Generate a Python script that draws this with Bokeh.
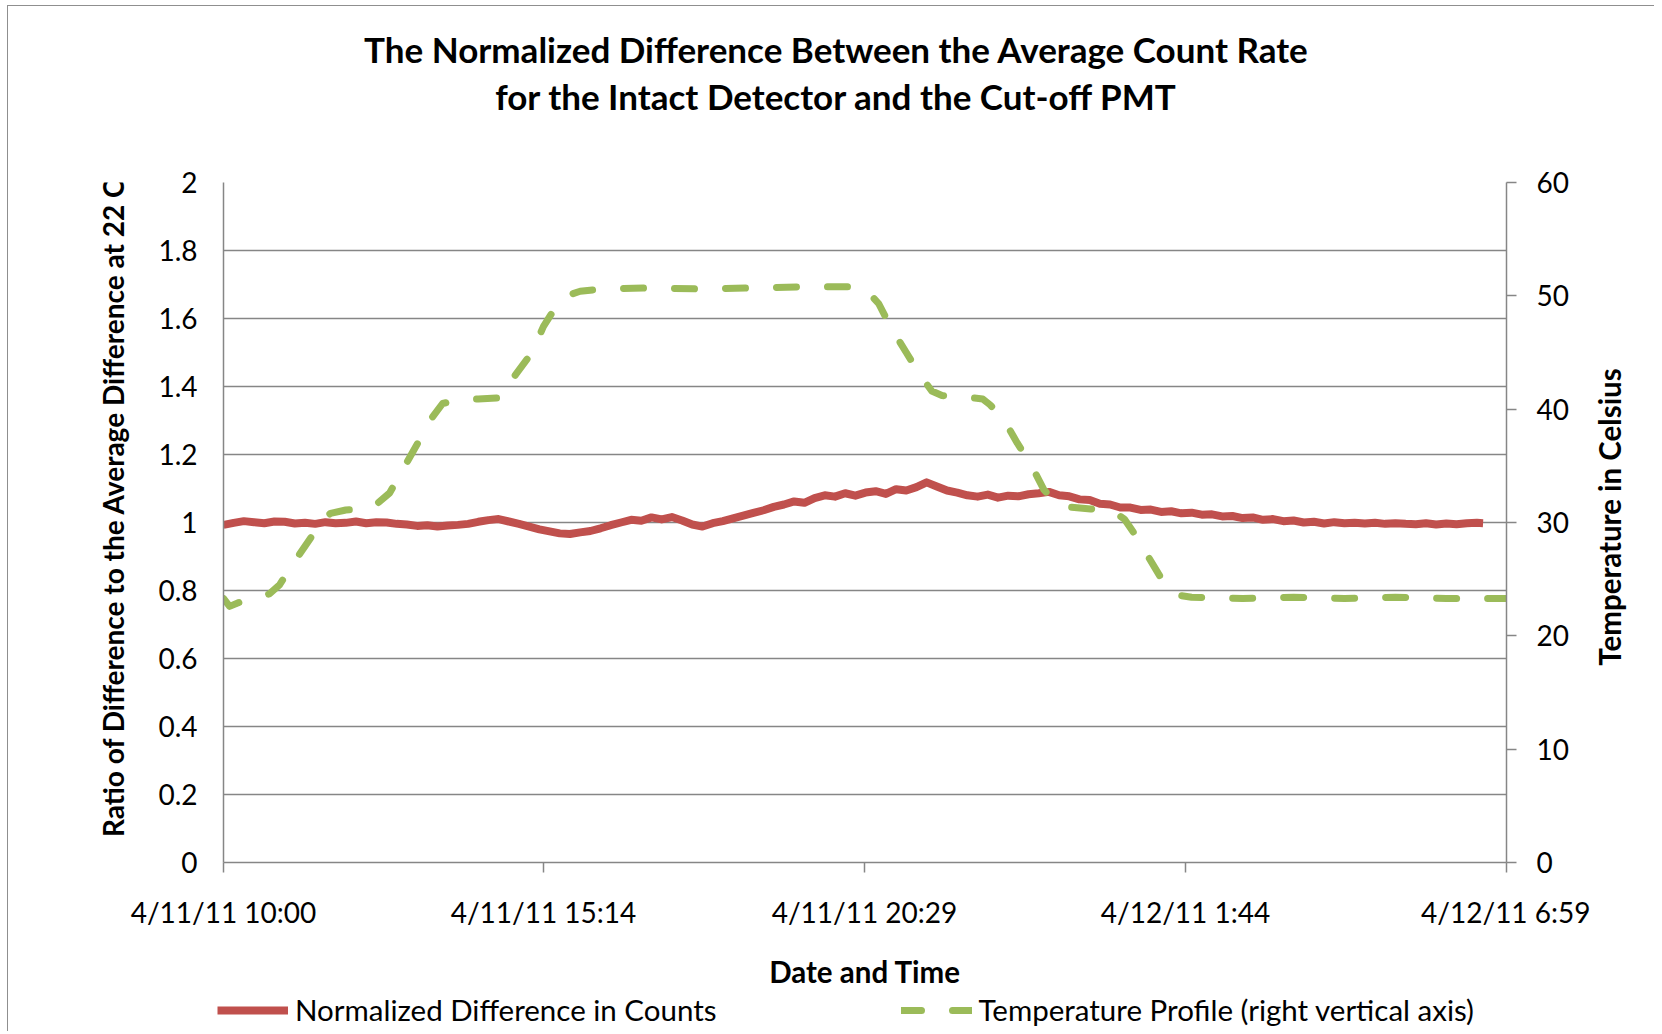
from bokeh.plotting import figure
from bokeh.layouts import column, row
from bokeh.models import (Range1d, LinearAxis, FixedTicker, NumeralTickFormatter,
                          Legend, LegendItem, Label)
from bokeh.embed import file_html
from bokeh.resources import INLINE
from math import pi

# ---------------- data ----------------
title_lines = ["The Normalized Difference Between the Average Count Rate",
               "for the Intact Detector and the Cut-off PMT"]
x_title = "Date and Time"
y_title = "Ratio of Difference to the Average Difference at 22 C"
y2_title = "Temperature in Celsius"

# x = minutes since 4/11/11 10:00
x_ticks = [0, 314, 629, 944, 1259]
x_tick_labels = ["4/11/11 10:00", "4/11/11 15:14", "4/11/11 20:29",
                 "4/12/11 1:44", "4/12/11 6:59"]
left_ticks = [0, 0.2, 0.4, 0.6, 0.8, 1, 1.2, 1.4, 1.6, 1.8, 2]
right_ticks = [0, 10, 20, 30, 40, 50, 60]

ratio_minutes = list(range(0, 1231, 10)) + [1236]
ratio_values = [
    0.993, 0.999, 1.004, 1.001, 0.998, 1.003, 1.002, 0.997, 0.999, 0.996,
    1.001, 0.998, 0.999, 1.003, 0.998, 1.001, 1.000, 0.996, 0.994, 0.990,
    0.992, 0.988, 0.991, 0.993, 0.996, 1.002, 1.007, 1.010, 1.003, 0.996,
    0.988, 0.980, 0.974, 0.968, 0.966, 0.971, 0.975, 0.983, 0.992, 1.000,
    1.008, 1.005, 1.015, 1.009, 1.016, 1.006, 0.994, 0.988, 0.998, 1.004,
    1.012, 1.020, 1.028, 1.036, 1.046, 1.053, 1.062, 1.058, 1.072, 1.080,
    1.076, 1.086, 1.079, 1.088, 1.092, 1.084, 1.098, 1.094, 1.104, 1.118,
    1.106, 1.094, 1.088, 1.080, 1.076, 1.082, 1.073, 1.079, 1.077, 1.083,
    1.086, 1.090, 1.080, 1.077, 1.068, 1.066, 1.055, 1.053, 1.044, 1.044,
    1.037, 1.038, 1.031, 1.033, 1.027, 1.029, 1.023, 1.024, 1.018, 1.019,
    1.013, 1.015, 1.008, 1.010, 1.004, 1.006, 1.000, 1.002, 0.997, 1.001,
    0.998, 0.999, 0.997, 0.999, 0.996, 0.998, 0.996, 0.995, 0.998, 0.994,
    0.997, 0.995, 0.998, 0.999,
    0.998,
]

temp_minutes = [0, 6, 25, 45, 55, 70, 86, 96, 105, 120,
                140, 150, 163, 178, 190, 205, 215, 230, 250, 272,
                287, 302, 314, 328, 340, 350, 370, 420, 470, 520,
                570, 610, 624, 633, 643, 655, 670, 683, 695, 705,
                724, 745, 752, 765, 779, 793, 805, 815, 825, 851,
                873, 884, 894, 906, 922, 936, 950, 1000, 1050, 1100,
                1150, 1200, 1259]
temp_values = [23.3, 22.6, 23.3, 23.7, 24.5, 26.6, 28.7, 30.2, 30.8, 31.1,
               31.2, 31.6, 32.6, 35.0, 36.9, 39.3, 40.5, 40.8, 40.9, 41.0,
               43.1, 44.9, 47.3, 49.3, 50.1, 50.4, 50.6, 50.7, 50.6, 50.7,
               50.8, 50.8, 50.8, 50.3, 49.3, 47.2, 45.0, 43.1, 41.6, 41.2,
               41.1, 40.9, 40.4, 39.2, 37.0, 35.0, 32.9, 31.9, 31.4, 31.2,
               31.0, 30.3, 29.0, 27.2, 24.8, 23.6, 23.4, 23.3, 23.4, 23.3,
               23.4, 23.3, 23.3]

series_names = ["Normalized Difference in Counts",
                "Temperature Profile (right vertical axis)"]

# ---------------- styling ----------------
FONT = "Lato"
RED = "#C0504D"
GREEN = "#9BBB59"
GRAY = "#868686"
TICK_SIZE = "28px"
AXIS_TITLE_SIZE = "29.5px"
TOTAL_W = 1646
SIDE_L, SIDE_R = 122, 64
BORDER_L, BORDER_R = 93, 84
STRIP_H = 850


def blank_fig(w, h, y_range=(0, 1)):
    f = figure(width=w, height=h, output_backend="svg", toolbar_location=None,
               title=None, x_axis_type=None, y_axis_type=None, min_border=0,
               x_range=Range1d(0, 1), y_range=Range1d(*y_range))
    f.outline_line_color = None
    f.background_fill_color = "white"
    f.border_fill_color = "white"
    return f


# ---------------- main plot ----------------
p = figure(frame_width=1283, frame_height=680,
           output_backend="svg", toolbar_location=None, title=None,
           x_range=Range1d(0, 1259), y_range=Range1d(0, 2),
           min_border_left=BORDER_L, min_border_right=BORDER_R,
           min_border_top=46, min_border_bottom=100)
p.extra_y_ranges = {"temp": Range1d(0, 60)}
p.outline_line_color = None
p.background_fill_color = "white"
p.border_fill_color = "white"

p.xgrid.grid_line_color = None
p.ygrid.grid_line_color = GRAY
p.ygrid.grid_line_width = 1.5
p.ygrid.ticker = FixedTicker(ticks=left_ticks)

xa = p.xaxis[0]
xa.ticker = FixedTicker(ticks=x_ticks)
xa.major_label_overrides = {t: lab for t, lab in zip(x_ticks, x_tick_labels)}
xa.axis_line_color = GRAY
xa.axis_line_width = 1.5
xa.major_tick_line_color = GRAY
xa.major_tick_line_width = 1.5
xa.major_tick_out = 10
xa.major_tick_in = 0
xa.minor_tick_line_color = None
xa.major_label_text_font = FONT
xa.major_label_text_font_size = TICK_SIZE
xa.major_label_text_color = "black"
xa.major_label_standoff = 22
xa.axis_label = x_title
xa.axis_label_text_font = FONT
xa.axis_label_text_font_style = "bold"
xa.axis_label_text_font_size = AXIS_TITLE_SIZE
xa.axis_label_text_color = "black"
xa.axis_label_standoff = 22

ya = p.yaxis[0]
ya.ticker = FixedTicker(ticks=left_ticks)
ya.formatter = NumeralTickFormatter(format="0.[0]")
ya.axis_line_color = GRAY
ya.axis_line_width = 1.5
ya.major_tick_line_color = None
ya.major_tick_out = 0
ya.major_tick_in = 0
ya.minor_tick_line_color = None
ya.major_label_text_font = FONT
ya.major_label_text_font_size = TICK_SIZE
ya.major_label_text_color = "black"
ya.major_label_standoff = 26

ra = LinearAxis(y_range_name="temp", ticker=FixedTicker(ticks=right_ticks))
ra.axis_line_color = GRAY
ra.axis_line_width = 1.5
ra.major_tick_line_color = GRAY
ra.major_tick_line_width = 1.5
ra.major_tick_out = 10
ra.major_tick_in = 0
ra.minor_tick_line_color = None
ra.major_label_text_font = FONT
ra.major_label_text_font_size = TICK_SIZE
ra.major_label_text_color = "black"
ra.major_label_standoff = 20
p.add_layout(ra, "right")

p.line(ratio_minutes, ratio_values, line_color=RED, line_width=8,
       line_join="round")
p.line(temp_minutes, temp_values, y_range_name="temp",
       line_color=GREEN, line_width=7, line_cap="round",
       line_join="round", line_dash="20 31")

# ---------------- title strip ----------------
tfig = blank_fig(TOTAL_W, 130)
for txt, yy in zip(title_lines, [88, 41]):
    tfig.add_layout(Label(x=828, y=yy, x_units="screen", y_units="screen",
                          text=txt, text_font=FONT, text_font_style="bold",
                          text_font_size="35px", text_align="center",
                          text_baseline="middle", text_color="black"))

# ---------------- side strips with the vertical axis titles ----------------
# (their plot areas line up with the main plot area: y measured from its bottom)
lside = blank_fig(SIDE_L, STRIP_H)
lside.add_layout(Label(x=104.5, y=350, x_units="screen", y_units="screen",
                       text=y_title, angle=pi / 2, text_font=FONT,
                       text_font_style="bold", text_font_size="28px",
                       text_align="center", text_baseline="middle",
                       text_color="black"))
rside = blank_fig(SIDE_R, STRIP_H)
rside.add_layout(Label(x=19, y=340.5, x_units="screen", y_units="screen",
                       text=y2_title, angle=pi / 2, text_font=FONT,
                       text_font_style="bold", text_font_size=AXIS_TITLE_SIZE,
                       text_align="center", text_baseline="middle",
                       text_color="black"))

# ---------------- legend strip ----------------
# the key glyphs reuse the series; their data lie outside this strip's range
lfig = blank_fig(TOTAL_W, 40, y_range=(-10, -9))
k_red = lfig.line(ratio_minutes, ratio_values, line_color=RED, line_width=8)
k_green = lfig.line(temp_minutes, temp_values, line_color=GREEN, line_width=7,
                    line_cap="round", line_dash="20 31")
legend = Legend(items=[LegendItem(label=series_names[0], renderers=[k_red]),
                       LegendItem(label=series_names[1], renderers=[k_green])],
                orientation="horizontal", location=(209, 4),
                glyph_width=71, glyph_height=30, label_standoff=7, spacing=184,
                padding=0, margin=0, border_line_color=None,
                background_fill_alpha=0, label_text_font=FONT,
                label_text_font_size="29.5px", label_text_color="black")
lfig.add_layout(legend)

layout = column(tfig, row(lside, p, rside), lfig)
layout.styles = {"margin-left": "7px", "margin-top": "5px",
                 "border-left": "1px solid #8f8f8f",
                 "border-top": "1px solid #8f8f8f"}

open("out.html", "w").write(file_html(layout, INLINE))
